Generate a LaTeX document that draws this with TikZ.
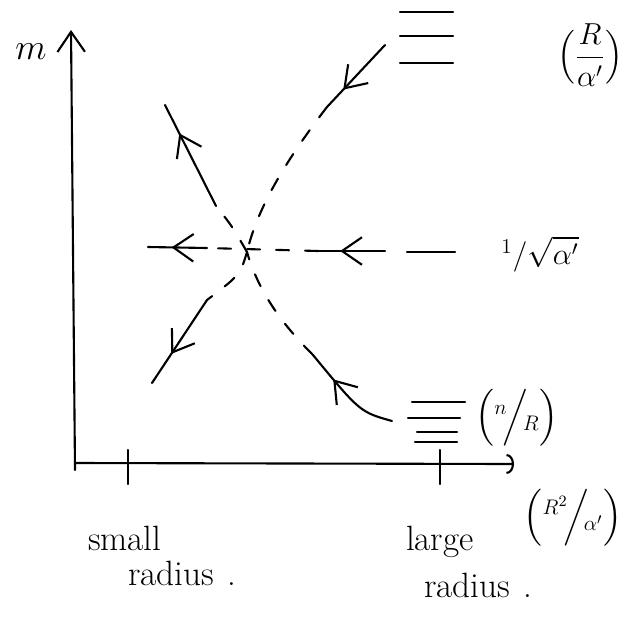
\documentclass[tikz,border=0pt]{standalone}
\usepackage{amsmath}
\usepackage{amssymb}
\usetikzlibrary{arrows.meta}
\usetikzlibrary{decorations.markings}
\usetikzlibrary{calc}

\begin{document}
\begin{tikzpicture}[x=0.02cm, y=-0.02cm, line width=1.2pt, line cap=round,
    flowdash/.style={dash pattern=on 2.6mm off 3.2mm},
    flowarrow/.style={decoration={markings, mark=at position #1 with {\arrow{Straight Barb[length=4mm, width=5.5mm]}}}, postaction={decorate}},
    handtext/.style={font=\fontsize{20}{22}\selectfont, inner sep=0pt},
    mathlabel/.style={font=\fontsize{16}{18}\selectfont}]
        \useasboundingbox (0,0) rectangle (635,619);

        % Draw the axes
        \coordinate (O) at (75,470);
        \coordinate (ytop) at (71,30);
        \coordinate (xstart) at (75,463);
        \coordinate (xend) at (514,464);
        \draw[-{Straight Barb[length=4mm, width=5.5mm]}] (O) -- (ytop);
        \draw[-{Arc Barb[length=1.5mm, width=4mm]}] (xstart) -- (xend);
        \node[mathlabel, font=\fontsize{22}{24}\selectfont] (mlab) at (31,52) {$m$};

        % Ticks for small and large radius
        \foreach \x in {128,440}
        {
          \draw (\x,450) -- (\x,484);
        }

        % Draw the stacked levels on the right
        \foreach \y in {12,36,63}
        {
          \draw (400,\y) -- (453,\y);
        }
        \foreach \y/\a/\b in {402/412/465, 418/408/460, 432/417/457, 442/415/457}
        {
          \draw (\a,\y) -- (\b,\y);
        }

        % Fixed point
        \coordinate (fp) at (247,252);

        % Flow coming in from the top right, leaving to the lower left
        \coordinate (tr1) at (385,45);
        \coordinate (tr2) at (327,107);
        \coordinate (ll1) at (207,300);
        \coordinate (ll2) at (152,383);
        \draw[flowarrow=0.72] (tr1) -- (tr2);
        \draw[flowdash] (tr2) .. controls (290,155) and (258,205) .. (fp);
        \draw[flowdash] (fp) .. controls (240,275) .. (ll1);
        \draw[flowarrow=0.65] (ll1) -- (ll2);

        % Flow coming in from the bottom right, leaving to the upper left
        \coordinate (br1) at (392,421);
        \coordinate (br2) at (313,355);
        \coordinate (ul1) at (216,206);
        \coordinate (ul2) at (165,105);
        \draw[flowarrow=0.7] (br1) .. controls (360,412) .. (br2);
        \draw[flowdash] (br2) .. controls (280,322) and (258,290) .. (fp);
        \draw[flowdash] (fp) .. controls (232,226) .. (ul1);
        \draw[flowarrow=0.72] (ul1) -- (ul2);

        % Horizontal flow
        \coordinate (ml1) at (207,248);
        \coordinate (ml2) at (148,247);
        \coordinate (mr1) at (385,251);
        \coordinate (mr2) at (318,251);
        \coordinate (uv1) at (455,252);
        \coordinate (uv2) at (407,252);
        \draw[flowarrow=0.6] (ml1) -- (ml2);
        \draw[flowdash] (mr2) -- (ml1);
        \draw[flowarrow=0.67] (mr1) -- (mr2);
        \draw (uv1) -- (uv2);

        % Labels on the right
        \node[mathlabel, font=\fontsize{17}{19}\selectfont, inner sep=1pt] (toplab) at (590,55) {$\Bigl(\dfrac{R}{\alpha'}\Bigr)$};
        \node[mathlabel, font=\fontsize{17}{19}\selectfont, inner sep=1pt] (midlab) at (540,254) {${}^{1}/\sqrt{\alpha'}$};
        \node[mathlabel, font=\fontsize{18}{20}\selectfont] (botlab) at (517,418) {$\Bigl({}^{n}\!\Big/\!{}_{R}\Bigr)$};
        \node[mathlabel, font=\fontsize{18}{20}\selectfont] (xlab) at (573,518) {$\Bigl({}^{R^2}\!\Big/\!{}_{\alpha'}\Bigr)$};

        % Labels below the axis
        \node[handtext, anchor=base west] (small) at (87,550) {small};
        \node[handtext, anchor=base west] (smallrad) at (127,585) {radius\hspace{8pt}.};
        \node[handtext, anchor=base west] (large) at (405,550) {large};
        \node[handtext, anchor=base west] (largerad) at (423,597) {radius\hspace{8pt}.};
      \end{tikzpicture}
\end{document}
